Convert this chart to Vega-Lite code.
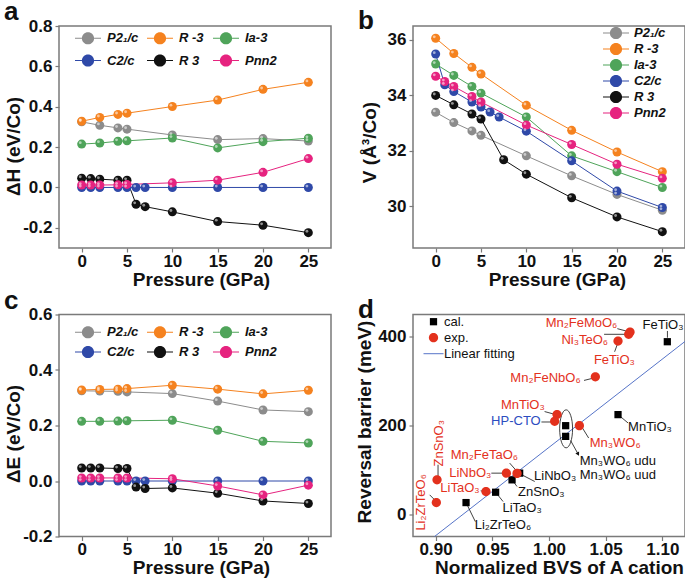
{
  "$schema": "https://vega.github.io/schema/vega-lite/v6.json",
  "background": "white",
  "padding": {"left": 3, "top": -2, "right": 0, "bottom": 0},
  "columns": 2,
  "spacing": {"row": 66.5, "column": 82},
  "bounds": "flush",
  "resolve": {
    "scale": {"color": "independent", "shape": "independent", "fill": "independent", "x": "independent", "y": "independent"},
    "legend": {"color": "independent", "shape": "independent"}
  },
  "config": {
    "font": "Liberation Sans",
    "view": {"stroke": "#7a7a7a", "strokeWidth": 1.5},
    "axis": {
      "grid": false, "domain": false, "ticks": true, "tickSize": 4, "tickColor": "#7a7a7a", "tickWidth": 1.2,
      "labelFont": "Liberation Sans", "labelFontSize": 17, "labelFontWeight": "bold", "labelColor": "#111",
      "labelPadding": 3, "titleFont": "Liberation Sans", "titleFontSize": 19, "titleFontWeight": "bold", "titleColor": "#111"
    },
    "axisX": {"labelPadding": 1},
    "legend": {
      "title": null, "orient": "none", "padding": 0, "labelFont": "Liberation Sans", "labelFontSize": 13,
      "labelColor": "#111", "symbolStrokeWidth": 0, "labelOffset": 5
    },
    "title": {
      "anchor": "start", "frame": "group", "fontSize": 26, "fontWeight": "bold", "font": "Liberation Sans",
      "color": "#111", "dx": -55, "offset": -8, "baseline": "alphabetic"
    }
  },
  "datasets": {
    "a": [
      {"s": "P2₁/c", "p": 0, "v": 0.325}, {"s": "P2₁/c", "p": 2, "v": 0.308}, {"s": "P2₁/c", "p": 4, "v": 0.295}, {"s": "P2₁/c", "p": 5, "v": 0.289},
      {"s": "P2₁/c", "p": 10, "v": 0.26}, {"s": "P2₁/c", "p": 15, "v": 0.237}, {"s": "P2₁/c", "p": 20, "v": 0.242}, {"s": "P2₁/c", "p": 25, "v": 0.23},
      {"s": "R -3", "p": 0, "v": 0.328}, {"s": "R -3", "p": 2, "v": 0.347}, {"s": "R -3", "p": 4, "v": 0.362}, {"s": "R -3", "p": 5, "v": 0.368},
      {"s": "R -3", "p": 10, "v": 0.401}, {"s": "R -3", "p": 15, "v": 0.433}, {"s": "R -3", "p": 20, "v": 0.486}, {"s": "R -3", "p": 25, "v": 0.521},
      {"s": "Ia-3", "p": 0, "v": 0.215}, {"s": "Ia-3", "p": 2, "v": 0.22}, {"s": "Ia-3", "p": 4, "v": 0.229}, {"s": "Ia-3", "p": 5, "v": 0.231},
      {"s": "Ia-3", "p": 10, "v": 0.245}, {"s": "Ia-3", "p": 15, "v": 0.196}, {"s": "Ia-3", "p": 20, "v": 0.227}, {"s": "Ia-3", "p": 25, "v": 0.244},
      {"s": "C2/c", "p": 0, "v": 0}, {"s": "C2/c", "p": 1, "v": 0}, {"s": "C2/c", "p": 2, "v": 0}, {"s": "C2/c", "p": 4, "v": 0},
      {"s": "C2/c", "p": 5, "v": 0}, {"s": "C2/c", "p": 6, "v": 0}, {"s": "C2/c", "p": 7, "v": 0}, {"s": "C2/c", "p": 10, "v": 0},
      {"s": "C2/c", "p": 15, "v": 0}, {"s": "C2/c", "p": 20, "v": 0}, {"s": "C2/c", "p": 25, "v": 0},
      {"s": "R 3", "p": 0, "v": 0.046}, {"s": "R 3", "p": 1, "v": 0.044}, {"s": "R 3", "p": 2, "v": 0.041}, {"s": "R 3", "p": 4, "v": 0.036},
      {"s": "R 3", "p": 5, "v": 0.036}, {"s": "R 3", "p": 6, "v": -0.083}, {"s": "R 3", "p": 7, "v": -0.095}, {"s": "R 3", "p": 10, "v": -0.121},
      {"s": "R 3", "p": 15, "v": -0.169}, {"s": "R 3", "p": 20, "v": -0.187}, {"s": "R 3", "p": 25, "v": -0.224},
      {"s": "Pnn2", "p": 0, "v": 0.012}, {"s": "Pnn2", "p": 1, "v": 0.012}, {"s": "Pnn2", "p": 2, "v": 0.012}, {"s": "Pnn2", "p": 4, "v": 0.013},
      {"s": "Pnn2", "p": 5, "v": 0.015}, {"s": "Pnn2", "p": 10, "v": 0.023}, {"s": "Pnn2", "p": 15, "v": 0.036}, {"s": "Pnn2", "p": 20, "v": 0.075},
      {"s": "Pnn2", "p": 25, "v": 0.143}
    ],
    "b": [
      {"s": "P2₁/c", "p": 0, "v": 33.39}, {"s": "P2₁/c", "p": 2, "v": 33.02}, {"s": "P2₁/c", "p": 4, "v": 32.72}, {"s": "P2₁/c", "p": 5, "v": 32.56},
      {"s": "P2₁/c", "p": 10, "v": 31.82}, {"s": "P2₁/c", "p": 15, "v": 31.1}, {"s": "P2₁/c", "p": 20, "v": 30.43}, {"s": "P2₁/c", "p": 25, "v": 29.86},
      {"s": "R -3", "p": 0, "v": 36.06}, {"s": "R -3", "p": 2, "v": 35.51}, {"s": "R -3", "p": 4, "v": 35.01}, {"s": "R -3", "p": 5, "v": 34.77},
      {"s": "R -3", "p": 10, "v": 33.64}, {"s": "R -3", "p": 15, "v": 32.74}, {"s": "R -3", "p": 20, "v": 31.96}, {"s": "R -3", "p": 25, "v": 31.25},
      {"s": "Ia-3", "p": 0, "v": 35.13}, {"s": "Ia-3", "p": 2, "v": 34.72}, {"s": "Ia-3", "p": 4, "v": 34.32}, {"s": "Ia-3", "p": 5, "v": 34.08},
      {"s": "Ia-3", "p": 10, "v": 33.22}, {"s": "Ia-3", "p": 15, "v": 31.82}, {"s": "Ia-3", "p": 20, "v": 31.25}, {"s": "Ia-3", "p": 25, "v": 30.68},
      {"s": "C2/c", "p": 0, "v": 35.49}, {"s": "C2/c", "p": 1, "v": 34.38}, {"s": "C2/c", "p": 2, "v": 34.14}, {"s": "C2/c", "p": 4, "v": 33.76},
      {"s": "C2/c", "p": 5, "v": 33.58}, {"s": "C2/c", "p": 6, "v": 33.4}, {"s": "C2/c", "p": 7, "v": 33.22}, {"s": "C2/c", "p": 10, "v": 32.71},
      {"s": "C2/c", "p": 15, "v": 31.64}, {"s": "C2/c", "p": 20, "v": 30.55}, {"s": "C2/c", "p": 25, "v": 29.96},
      {"s": "R 3", "p": 0, "v": 34.0}, {"s": "R 3", "p": 2, "v": 33.66}, {"s": "R 3", "p": 4, "v": 33.33}, {"s": "R 3", "p": 5, "v": 33.15},
      {"s": "R 3", "p": 7.5, "v": 31.68}, {"s": "R 3", "p": 10, "v": 31.16}, {"s": "R 3", "p": 15, "v": 30.31}, {"s": "R 3", "p": 20, "v": 29.62},
      {"s": "R 3", "p": 25, "v": 29.09},
      {"s": "Pnn2", "p": 0, "v": 34.69}, {"s": "Pnn2", "p": 1, "v": 34.5}, {"s": "Pnn2", "p": 2, "v": 34.32}, {"s": "Pnn2", "p": 4, "v": 33.96},
      {"s": "Pnn2", "p": 5, "v": 33.76}, {"s": "Pnn2", "p": 10, "v": 32.93}, {"s": "Pnn2", "p": 15, "v": 32.23}, {"s": "Pnn2", "p": 20, "v": 31.52},
      {"s": "Pnn2", "p": 25, "v": 31.01}
    ],
    "c": [
      {"s": "P2₁/c", "p": 0, "v": 0.325}, {"s": "P2₁/c", "p": 2, "v": 0.324}, {"s": "P2₁/c", "p": 4, "v": 0.323}, {"s": "P2₁/c", "p": 5, "v": 0.321},
      {"s": "P2₁/c", "p": 10, "v": 0.315}, {"s": "P2₁/c", "p": 15, "v": 0.288}, {"s": "P2₁/c", "p": 20, "v": 0.256}, {"s": "P2₁/c", "p": 25, "v": 0.25},
      {"s": "R -3", "p": 0, "v": 0.328}, {"s": "R -3", "p": 2, "v": 0.33}, {"s": "R -3", "p": 4, "v": 0.331}, {"s": "R -3", "p": 5, "v": 0.333},
      {"s": "R -3", "p": 10, "v": 0.345}, {"s": "R -3", "p": 15, "v": 0.331}, {"s": "R -3", "p": 20, "v": 0.314}, {"s": "R -3", "p": 25, "v": 0.327},
      {"s": "Ia-3", "p": 0, "v": 0.215}, {"s": "Ia-3", "p": 2, "v": 0.215}, {"s": "Ia-3", "p": 4, "v": 0.216}, {"s": "Ia-3", "p": 5, "v": 0.217},
      {"s": "Ia-3", "p": 10, "v": 0.219}, {"s": "Ia-3", "p": 15, "v": 0.183}, {"s": "Ia-3", "p": 20, "v": 0.143}, {"s": "Ia-3", "p": 25, "v": 0.137},
      {"s": "C2/c", "p": 0, "v": 0}, {"s": "C2/c", "p": 1, "v": 0}, {"s": "C2/c", "p": 2, "v": 0}, {"s": "C2/c", "p": 4, "v": 0},
      {"s": "C2/c", "p": 5, "v": 0}, {"s": "C2/c", "p": 6, "v": 0}, {"s": "C2/c", "p": 7, "v": 0}, {"s": "C2/c", "p": 10, "v": 0},
      {"s": "C2/c", "p": 15, "v": 0}, {"s": "C2/c", "p": 20, "v": 0}, {"s": "C2/c", "p": 25, "v": 0},
      {"s": "R 3", "p": 0, "v": 0.047}, {"s": "R 3", "p": 1, "v": 0.047}, {"s": "R 3", "p": 2, "v": 0.047}, {"s": "R 3", "p": 4, "v": 0.045},
      {"s": "R 3", "p": 5, "v": 0.045}, {"s": "R 3", "p": 6, "v": -0.022}, {"s": "R 3", "p": 7, "v": -0.027}, {"s": "R 3", "p": 10, "v": -0.025},
      {"s": "R 3", "p": 15, "v": -0.044}, {"s": "R 3", "p": 20, "v": -0.072}, {"s": "R 3", "p": 25, "v": -0.081},
      {"s": "Pnn2", "p": 0, "v": 0.011}, {"s": "Pnn2", "p": 1, "v": 0.011}, {"s": "Pnn2", "p": 2, "v": 0.011}, {"s": "Pnn2", "p": 4, "v": 0.011},
      {"s": "Pnn2", "p": 5, "v": 0.011}, {"s": "Pnn2", "p": 10, "v": 0.008}, {"s": "Pnn2", "p": 15, "v": -0.018}, {"s": "Pnn2", "p": 20, "v": -0.05},
      {"s": "Pnn2", "p": 25, "v": -0.015}
    ],
    "fit": [{"x": 0.88, "y": -87.8}, {"x": 1.12, "y": 389.3}],
    "pts": [
      {"k": "cal.", "n": "FeTiO₃", "x": 1.1044, "y": 388.7},
      {"k": "cal.", "n": "MnTiO₃", "x": 1.0609, "y": 224.5},
      {"k": "cal.", "n": "Mn₃WO₆ udu", "x": 1.0147, "y": 199.6},
      {"k": "cal.", "n": "Mn₃WO₆ uud", "x": 1.0147, "y": 175.5},
      {"k": "cal.", "n": "LiNbO₃", "x": 0.9741, "y": 92.7},
      {"k": "cal.", "n": "ZnSnO₃", "x": 0.9674, "y": 77.6},
      {"k": "cal.", "n": "LiTaO₃", "x": 0.9529, "y": 49.7},
      {"k": "cal.", "n": "Li₂ZrTeO₆", "x": 0.9268, "y": 26.4},
      {"k": "exp.", "n": "Mn₂FeMoO₆", "x": 1.0715, "y": 410.5},
      {"k": "exp.", "n": "Ni₃TeO₆", "x": 1.0703, "y": 405.3},
      {"k": "exp.", "n": "FeTiO₃", "x": 1.0609, "y": 390.2},
      {"k": "exp.", "n": "Mn₂FeNbO₆", "x": 1.0409, "y": 309.6},
      {"k": "exp.", "n": "MnTiO₃", "x": 1.0071, "y": 224.5},
      {"k": "exp.", "n": "HP-CTO", "x": 1.005, "y": 209.4},
      {"k": "exp.", "n": "Mn₃WO₆", "x": 1.0268, "y": 199.6},
      {"k": "exp.", "n": "Mn₂FeTaO₆", "x": 0.9718, "y": 91.9},
      {"k": "exp.", "n": "LiNbO₃", "x": 0.9624, "y": 92.7},
      {"k": "exp.", "n": "LiTaO₃", "x": 0.9444, "y": 51.2},
      {"k": "exp.", "n": "ZnSnO₃", "x": 0.9012, "y": 77.6},
      {"k": "exp.", "n": "Li₂ZrTeO₆", "x": 0.9006, "y": 26.4}
    ],
    "lead": [
      {"x": 1.0603, "y": 418.1, "x2": 1.0703, "y2": 411.3},
      {"x": 1.0486, "y": 405.4, "x2": 1.0703, "y2": 405.4},
      {"x": 1.0579, "y": 366.1, "x2": 1.0603, "y2": 382.8},
      {"x": 1.0309, "y": 301.5, "x2": 1.038, "y2": 306},
      {"x": 1.1045, "y": 412.9, "x2": 1.1045, "y2": 397.7},
      {"x": 0.9933, "y": 207.9, "x2": 1.0027, "y2": 207.9},
      {"x": 0.9961, "y": 231.4, "x2": 1.0049, "y2": 225.3},
      {"x": 1.0286, "y": 198.2, "x2": 1.035, "y2": 171.8},
      {"x": 1.0609, "y": 224.6, "x2": 1.0698, "y2": 205.6},
      {"x": 1.0191, "y": 165.9, "x2": 1.0257, "y2": 135.6},
      {"x": 0.9732, "y": 92.7, "x2": 0.9874, "y2": 73.9},
      {"x": 0.9674, "y": 77.7, "x2": 0.9718, "y2": 62.6},
      {"x": 0.9529, "y": 49.7, "x2": 0.9595, "y2": 28.7},
      {"x": 0.9268, "y": 26.4, "x2": 0.935, "y2": -16.5},
      {"x": 0.9397, "y": 52.9, "x2": 0.9439, "y2": 51.3},
      {"x": 0.9491, "y": 92.7, "x2": 0.9609, "y2": 92.7},
      {"x": 0.9653, "y": 115.3, "x2": 0.9718, "y2": 96.5},
      {"x": 0.9021, "y": 111.6, "x2": 0.9021, "y2": 85.2},
      {"x": 0.8947, "y": 43.8, "x2": 0.8991, "y2": 32.5}
    ],
    "labR": [
      {"k": "exp.", "t": "Mn₂FeMoO₆", "x": 1.0603, "y": 431.6},
      {"k": "exp.", "t": "Ni₃TeO₆", "x": 1.0521, "y": 391.9},
      {"k": "exp.", "t": "Mn₂FeNbO₆", "x": 1.0279, "y": 306},
      {"k": "exp.", "t": "MnTiO₃", "x": 0.9962, "y": 247.2},
      {"k": "HP", "t": "HP-CTO", "x": 0.9927, "y": 211.1},
      {"k": "exp.", "t": "LiTaO₃", "x": 0.9388, "y": 58.8},
      {"k": "exp.", "t": "LiNbO₃", "x": 0.9491, "y": 92.7},
      {"k": "exp.", "t": "Mn₂FeTaO₆", "x": 0.9727, "y": 134.2}
    ],
    "labC": [
      {"k": "exp.", "t": "FeTiO₃", "x": 1.0577, "y": 346.7},
      {"k": "cal.", "t": "FeTiO₃", "x": 1.1006, "y": 426.4}
    ],
    "labL": [
      {"k": "exp.", "t": "Mn₃WO₆", "x": 1.0359, "y": 160.5},
      {"k": "cal.", "t": "MnTiO₃", "x": 1.0698, "y": 195.9},
      {"k": "cal.", "t": "Mn₃WO₆ udu", "x": 1.0271, "y": 119.1},
      {"k": "cal.", "t": "Mn₃WO₆ uud", "x": 1.0271, "y": 87.5},
      {"k": "cal.", "t": "LiNbO₃", "x": 0.9868, "y": 85.2},
      {"k": "cal.", "t": "ZnSnO₃", "x": 0.9727, "y": 51.3},
      {"k": "cal.", "t": "LiTaO₃", "x": 0.9589, "y": 13.6},
      {"k": "cal.", "t": "Li₂ZrTeO₆", "x": 0.9344, "y": -24}
    ],
    "labV": [
      {"k": "exp.", "t": "ZnSnO₃", "x": 0.903, "y": 160},
      {"k": "exp.", "t": "Li₂ZrTeO₆", "x": 0.8874, "y": 26.9}
    ]
  },
  "concat": [
    {
      "width": 272, "height": 222,
      "title": {"text": "a"},
      "data": {"name": "a"},
      "encoding": {
        "x": {"field": "p", "type": "quantitative", "scale": {"domain": [-2.5, 27.5], "nice": false, "zero": false},
              "axis": {"values": [0, 5, 10, 15, 20, 25], "title": "Pressure (GPa)", "titlePadding": 1, "titleX": 142}},
        "y": {"field": "v", "type": "quantitative", "scale": {"domain": [-0.3, 0.8], "nice": false, "zero": false},
              "axis": {"values": [-0.2, 0, 0.2, 0.4, 0.6, 0.8], "format": ".1f", "labelExpr": "replace(datum.label, '−', '-')", "title": "ΔH (eV/Co)", "titlePadding": -1, "titleY": 120}},
        "color": {"field": "s", "type": "nominal",
                  "scale": {"domain": ["P2₁/c", "C2/c", "R -3", "R 3", "Ia-3", "Pnn2"], "range": ["#8c8c8c", "#2f49a8", "#f5821f", "#111111", "#4fa45a", "#e6237f"]},
                  "legend": {"columns": 3, "legendX": 22.5, "legendY": 5.5, "symbolType": "M-2,-0.08L-0.94,-0.08L-0.94,0.08L-2,0.08Z M0.94,-0.08L2,-0.08L2,0.08L0.94,0.08Z M-0.94,0A0.94,0.94,0,1,1,0.94,0A0.94,0.94,0,1,1,-0.94,0Z",
                             "symbolSize": 169, "columnPadding": 8, "rowPadding": 8.5, "labelOffset": 12.5, "labelFontWeight": "bold", "labelFontStyle": "italic"}}
      },
      "layer": [
        {"mark": {"type": "line", "strokeWidth": 1}},
        {"mark": {"type": "point", "filled": true, "size": 81, "opacity": 1}},
        {"mark": {"type": "point", "filled": true, "size": 8, "opacity": 0.55, "xOffset": -1.4, "yOffset": -1.4}, "encoding": {"color": {"value": "white"}}}
      ]
    },
    {
      "width": 272, "height": 222,
      "title": {"text": "b"},
      "data": {"name": "b"},
      "encoding": {
        "x": {"field": "p", "type": "quantitative", "scale": {"domain": [-2.5, 27.5], "nice": false, "zero": false},
              "axis": {"values": [0, 5, 10, 15, 20, 25], "title": "Pressure (GPa)", "titlePadding": 1, "titleX": 144}},
        "y": {"field": "v", "type": "quantitative", "scale": {"domain": [28.5, 36.5], "nice": false, "zero": false},
              "axis": {"values": [30, 32, 34, 36], "title": "V (Å³/Co)", "titlePadding": 8, "titleY": 116}},
        "color": {"field": "s", "type": "nominal",
                  "scale": {"domain": ["P2₁/c", "R -3", "Ia-3", "C2/c", "R 3", "Pnn2"], "range": ["#8c8c8c", "#f5821f", "#4fa45a", "#2f49a8", "#111111", "#e6237f"]},
                  "legend": {"columns": 1, "legendX": 196.5, "legendY": 0.5, "symbolType": "M-2,-0.08L-0.94,-0.08L-0.94,0.08L-2,0.08Z M0.94,-0.08L2,-0.08L2,0.08L0.94,0.08Z M-0.94,0A0.94,0.94,0,1,1,0.94,0A0.94,0.94,0,1,1,-0.94,0Z",
                             "symbolSize": 169, "rowPadding": 2, "labelOffset": 11.5, "labelFontWeight": "bold", "labelFontStyle": "italic"}}
      },
      "layer": [
        {"mark": {"type": "line", "strokeWidth": 1}},
        {"mark": {"type": "point", "filled": true, "size": 81, "opacity": 1}},
        {"mark": {"type": "point", "filled": true, "size": 8, "opacity": 0.55, "xOffset": -1.4, "yOffset": -1.4}, "encoding": {"color": {"value": "white"}}}
      ]
    },
    {
      "width": 272, "height": 222,
      "title": {"text": "c"},
      "data": {"name": "c"},
      "encoding": {
        "x": {"field": "p", "type": "quantitative", "scale": {"domain": [-2.5, 27.5], "nice": false, "zero": false},
              "axis": {"values": [0, 5, 10, 15, 20, 25], "title": "Pressure (GPa)", "titlePadding": 1, "titleX": 142}},
        "y": {"field": "v", "type": "quantitative", "scale": {"domain": [-0.2, 0.6], "nice": false, "zero": false},
              "axis": {"values": [-0.2, 0, 0.2, 0.4, 0.6], "format": ".1f", "labelExpr": "replace(datum.label, '−', '-')", "title": "ΔE (eV/Co)", "titlePadding": -1, "titleY": 119}},
        "color": {"field": "s", "type": "nominal",
                  "scale": {"domain": ["P2₁/c", "C2/c", "R -3", "R 3", "Ia-3", "Pnn2"], "range": ["#8c8c8c", "#2f49a8", "#f5821f", "#111111", "#4fa45a", "#e6237f"]},
                  "legend": {"columns": 3, "legendX": 22.5, "legendY": 11, "symbolType": "M-2,-0.08L-0.94,-0.08L-0.94,0.08L-2,0.08Z M0.94,-0.08L2,-0.08L2,0.08L0.94,0.08Z M-0.94,0A0.94,0.94,0,1,1,0.94,0A0.94,0.94,0,1,1,-0.94,0Z",
                             "symbolSize": 169, "columnPadding": 8, "rowPadding": 6, "labelOffset": 12.5, "labelFontWeight": "bold", "labelFontStyle": "italic"}}
      },
      "layer": [
        {"mark": {"type": "line", "strokeWidth": 1}},
        {"mark": {"type": "point", "filled": true, "size": 81, "opacity": 1}},
        {"mark": {"type": "point", "filled": true, "size": 8, "opacity": 0.55, "xOffset": -1.4, "yOffset": -1.4}, "encoding": {"color": {"value": "white"}}}
      ]
    },
    {
      "width": 272, "height": 222,
      "title": {"text": "d"},
      "encoding": {
        "x": {"field": "x", "type": "quantitative", "scale": {"domain": [0.88, 1.12], "nice": false, "zero": false},
              "axis": {"values": [0.9, 0.95, 1.0, 1.05, 1.1], "format": ".2f", "title": "Normalized BVS of A cation", "titlePadding": 1, "titleX": 146}},
        "y": {"field": "y", "type": "quantitative", "scale": {"domain": [-50, 450], "nice": false, "zero": false},
              "axis": {"values": [0, 200, 400], "title": "Reversal barrier (meV)", "titlePadding": 3, "titleY": 107}}
      },
      "layer": [
        {"data": {"name": "fit"}, "mark": {"type": "line", "color": "#5674c8", "strokeWidth": 1, "clip": true}},
        {"data": {"name": "lead"}, "mark": {"type": "rule", "color": "#111", "strokeWidth": 0.8},
         "encoding": {"x2": {"field": "x2"}, "y2": {"field": "y2"}}},
        {"data": {"values": [{"x": 1.0151, "y": 192.5}]},
         "mark": {"type": "point", "shape": "M0,-1A0.34,1,0,1,1,0,1A0.34,1,0,1,1,0,-1Z", "size": 1444, "filled": false, "color": "#111", "strokeWidth": 0.8, "opacity": 1}},
        {"data": {"values": [{"x": 1.0257, "y": 135.6}]},
         "mark": {"type": "point", "shape": "triangle-up", "angle": 151, "size": 18, "filled": true, "color": "#111", "opacity": 1}},
        {"data": {"name": "pts"}, "mark": {"type": "point", "filled": true, "size": 156.25, "opacity": 1},
         "encoding": {
           "shape": {"field": "k", "type": "nominal", "scale": {"domain": ["cal.", "exp.", "Linear fitting"],
             "range": ["M-0.58,-0.58L0.58,-0.58L0.58,0.58L-0.58,0.58Z", "M-0.74,0A0.74,0.74,0,1,1,0.74,0A0.74,0.74,0,1,1,-0.74,0Z", "M-1.6,-0.08L1.6,-0.08L1.6,0.08L-1.6,0.08Z"]},
             "legend": {"legendX": 14, "legendY": 0.7, "symbolSize": 156.25, "rowPadding": 2, "labelOffset": 4}},
           "color": {"field": "k", "type": "nominal", "scale": {"domain": ["cal.", "exp.", "Linear fitting"], "range": ["#000000", "#e3311d", "#5674c8"]},
             "legend": {"legendX": 14, "legendY": 0.7, "symbolSize": 156.25, "rowPadding": 2, "labelOffset": 4}}
         }},
        {"data": {"name": "labR"}, "mark": {"type": "text", "align": "right", "baseline": "middle", "fontSize": 13},
         "encoding": {"text": {"field": "t"}, "fill": {"field": "k", "type": "nominal", "scale": {"domain": ["cal.", "exp.", "HP"], "range": ["#111111", "#e3311d", "#2c4cc0"]}, "legend": null}}},
        {"data": {"name": "labC"}, "mark": {"type": "text", "align": "center", "baseline": "middle", "fontSize": 13},
         "encoding": {"text": {"field": "t"}, "fill": {"field": "k", "type": "nominal", "scale": {"domain": ["cal.", "exp.", "HP"], "range": ["#111111", "#e3311d", "#2c4cc0"]}, "legend": null}}},
        {"data": {"name": "labL"}, "mark": {"type": "text", "align": "left", "baseline": "middle", "fontSize": 13},
         "encoding": {"text": {"field": "t"}, "fill": {"field": "k", "type": "nominal", "scale": {"domain": ["cal.", "exp.", "HP"], "range": ["#111111", "#e3311d", "#2c4cc0"]}, "legend": null}}},
        {"data": {"name": "labV"}, "mark": {"type": "text", "align": "center", "baseline": "middle", "fontSize": 13, "angle": 270},
         "encoding": {"text": {"field": "t"}, "fill": {"field": "k", "type": "nominal", "scale": {"domain": ["cal.", "exp.", "HP"], "range": ["#111111", "#e3311d", "#2c4cc0"]}, "legend": null}}}
      ]
    }
  ]
}
